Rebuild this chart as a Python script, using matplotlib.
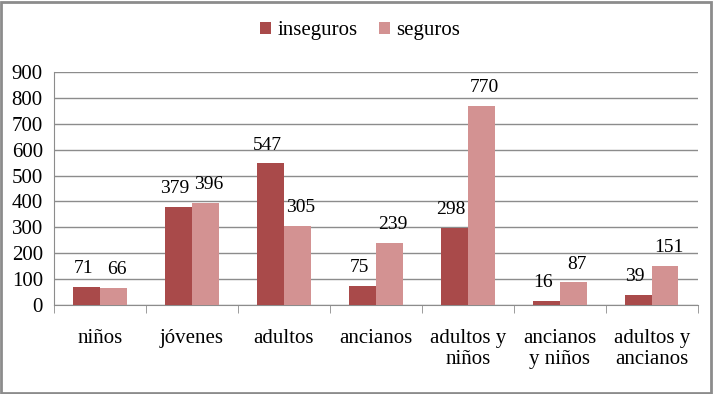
import numpy as np
import matplotlib
matplotlib.use("Agg")
from matplotlib import pyplot as plt
from matplotlib.patches import Rectangle

plt.rcParams['font.family'] = ['Liberation Serif', 'DejaVu Serif']

"""Data"""
categories = ["niños", "jóvenes", "adultos", "ancianos", "adultos y\nniños",
              "ancianos\ny niños", "adultos y\nancianos"]
inseguros = [71, 379, 547, 75, 298, 16, 39]
seguros = [66, 396, 305, 239, 770, 87, 151]
yticks = [0, 100, 200, 300, 400, 500, 600, 700, 800, 900]

c_ins = "#A94A4A"
c_seg = "#D39292"
fs = 15

fig = plt.figure(figsize=(7.13, 3.94), dpi=100)
ax = fig.add_axes([0.0757, 0.226, 0.903, 0.591])

"""Bars"""
x = np.arange(len(categories))
w = 0.29
b1 = ax.bar(x - w / 2, inseguros, w, color=c_ins, label="inseguros", zorder=3)
b2 = ax.bar(x + w / 2, seguros, w, color=c_seg, label="seguros", zorder=3)

for bars, vals, dx in ((b1, inseguros, -2.5), (b2, seguros, 2.5)):
    for r, v in zip(bars, vals):
        ax.annotate(str(v), (r.get_x() + r.get_width() / 2, v), xytext=(dx, 7),
                    textcoords="offset points", ha="center", va="bottom", fontsize=14)

"""Axes"""
ax.set_ylim(0, 900)
ax.set_xlim(-0.5, len(categories) - 0.5)
ax.set_yticks(yticks)
ax.set_yticklabels([str(t) for t in yticks], fontsize=fs)
ax.yaxis.grid(True, color="#8c8c8c", linewidth=1, zorder=0)
ax.tick_params(axis="y", length=0, pad=8)

ax.set_xticks(x)
ax.set_xticklabels(categories, fontsize=fs, linespacing=1.2)
ax.set_xticks(np.arange(-0.5, len(categories), 1), minor=True)
ax.tick_params(axis="x", which="major", length=0, pad=17)
ax.tick_params(axis="x", which="minor", length=6, color="#8c8c8c")

for s in ["top", "right"]:
    ax.spines[s].set_visible(False)
for s in ["left", "bottom"]:
    ax.spines[s].set_color("#8c8c8c")

"""Legend"""
fig.legend(handles=[b1, b2], loc="center", bbox_to_anchor=(0.505, 0.922), ncol=2,
           frameon=False, fontsize=fs, handlelength=0.55, handleheight=0.55,
           handletextpad=0.3, columnspacing=1.0)

"""Border"""
fig.patches.append(Rectangle((0.002, 0.003), 0.995, 0.993, transform=fig.transFigure,
                             fill=False, edgecolor="#8c8c8c", linewidth=2))

fig.savefig("out.png", dpi=100)
